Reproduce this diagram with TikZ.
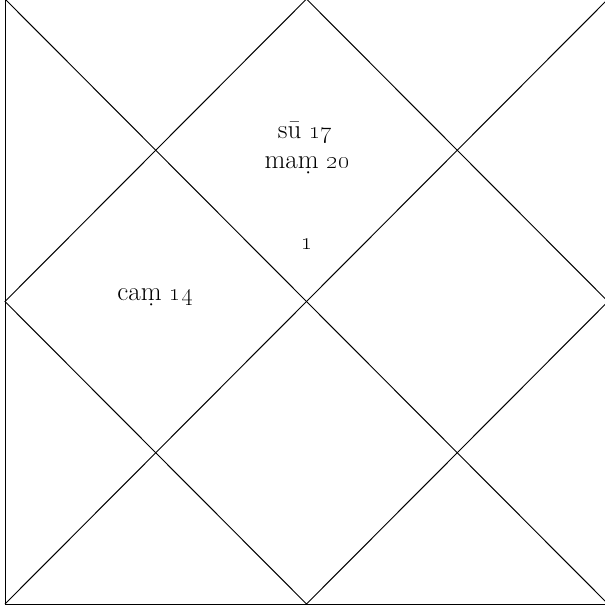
\documentclass[tikz,border=0pt]{standalone}
\usepackage{tikz}
\usetikzlibrary{positioning}

\begin{document}
\begin{tikzpicture}[
  x=1pt, y=-1pt,
  chartline/.style={draw=black, line width=1pt},
  graha/.style={font=\fontsize{27}{30}\selectfont, inner sep=0pt, align=center},
  bhava/.style={font=\fontsize{27}{30}\selectfont, inner sep=0pt}
]
\useasboundingbox (0,0) rectangle (605,608);

% chart corners
\coordinate (tl) at (5,-1);
\coordinate (tr) at (608,-1);
\coordinate (br) at (608,604);
\coordinate (bl) at (5,604);

% mid points of the sides
\coordinate (tm) at (306.5,-1);
\coordinate (rm) at (608,301.5);
\coordinate (bm) at (306.5,604);
\coordinate (lm) at (5,301.5);

% frame, diagonals, inner diamond
\draw[chartline] (tl) rectangle (br);
\draw[chartline] (tl) -- (br);
\draw[chartline] (tr) -- (bl);
\draw[chartline] (tm) -- (rm) -- (bm) -- (lm) -- cycle;

% houses
\node[graha] (su) at (305,133) {sū \oldstylenums{17}};
\node[graha] (mam) at (307,165) {maṃ \oldstylenums{20}};
\node[bhava] (lagna) at (307,244) {\oldstylenums{1}};
\node[graha] (cam) at (155,297) {caṃ \oldstylenums{14}};

\end{tikzpicture}
\end{document}
